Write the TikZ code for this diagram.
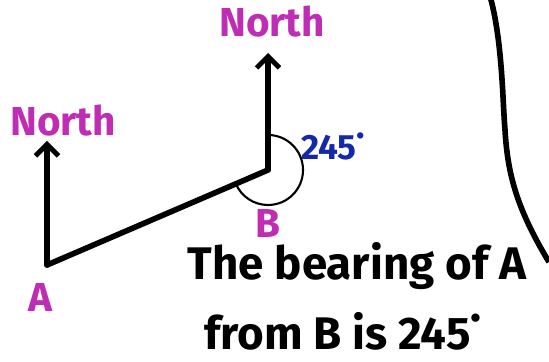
\documentclass[tikz,border=0pt]{standalone}
\usepackage{fontspec}
\setmainfont{Fira Sans}
\usetikzlibrary{arrows.meta}
\definecolor{labpink}{RGB}{190,45,180}
\definecolor{angblue}{RGB}{20,40,170}
\newcommand{\degdot}{\smash{\raisebox{1.15ex}{.}}}
\begin{document}
\begin{tikzpicture}[
    bearline/.style={line width=3.2pt, line cap=round, line join=round},
    northarrow/.style={bearline, -{Straight Barb[length=6.5pt,width=13pt,line width=2.8pt]}},
    pointlab/.style={font=\bfseries\fontsize{23}{25}\selectfont, text=labpink, inner sep=0pt},
    anglab/.style={font=\bfseries\fontsize{20}{22}\selectfont, text=angblue, inner sep=0pt},
    caption/.style={font=\bfseries\fontsize{26}{31}\selectfont, align=center, inner sep=0pt}
  ]
  \useasboundingbox (0,0) rectangle (10.98,7.22);
  \coordinate (pointA) at (0.94,1.92);
  \coordinate (pointB) at (5.36,3.82);
  \coordinate (tipA) at (0.94,4.40);
  \coordinate (tipB) at (5.36,6.16);
  % the two north lines and the path A to B
  \draw[northarrow] (pointA) -- (tipA);
  \draw[northarrow] (pointB) -- (tipB);
  \draw[bearline] (pointA) -- (pointB);
  % the bearing angle at B
  \draw[line width=1.2pt] (pointB) ++(90:0.70) arc[start angle=90, end angle=-157, radius=0.70];
  \node[pointlab] (northlabA) at (1.26,4.80) {North};
  \node[pointlab] (northlabB) at (5.44,6.78) {North};
  \node[pointlab] (labA) at (0.80,1.28) {A};
  \node[pointlab] (labB) at (5.36,2.76) {B};
  \node[anglab] (angle) at (6.66,4.26) {245\degdot};
  \node[caption] (lineone) at (7.14,1.90) {The bearing of A};
  \node[caption] (linetwo) at (6.86,0.60) {from B is 245\degdot};
  % curve on the right
  \draw[line width=3.2pt] (9.80,7.30) .. controls (10.05,6.40) and (10.05,5.20) .. (10.10,4.62)
    .. controls (10.15,3.80) and (10.30,3.10) .. (10.98,1.98);
\end{tikzpicture}
\end{document}
